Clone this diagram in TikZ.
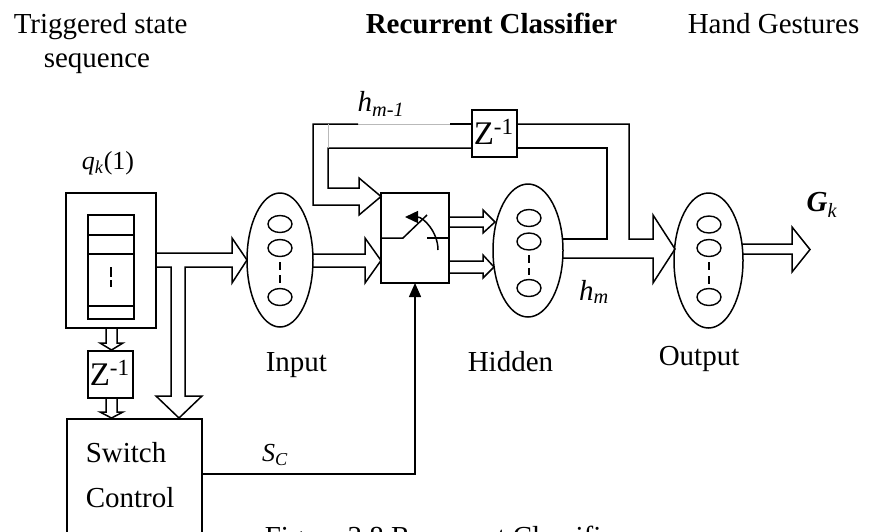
\documentclass[tikz,border=0pt]{standalone}
\usepackage{fontspec}
\setmainfont{Liberation Serif}
\usetikzlibrary{shapes.geometric,arrows.meta}
\begin{document}
\begin{tikzpicture}[x=1pt,y=-1pt, line width=1.5pt, line join=miter,
  box/.style={draw, rectangle, inner sep=0pt},
  layer/.style={draw, ellipse, inner sep=0pt},
  unit/.style={draw, ellipse, inner sep=0pt, line width=1.4pt, minimum width=24pt, minimum height=17pt},
  lbl/.style={font=\fontsize{29}{34}\selectfont, inner sep=0pt},
  sym/.style={font=\fontsize{29}{34}\selectfont, inner sep=0pt},
  zsym/.style={font=\fontsize{33}{38}\selectfont, inner sep=0pt},
  faint/.style={draw=gray!55, line width=0.8pt}]
\clip (0,0) rectangle (869,531);
\fill[white] (0,0) rectangle (869,531);

% titles
\node[lbl, anchor=base west] (t1) at (13,33) {Triggered state};
\node[lbl, anchor=base west] (t2) at (43,67) {sequence};
\node[lbl, anchor=base west, font=\fontsize{29}{34}\selectfont\bfseries] (t3) at (365,33) {Recurrent Classifier};
\node[lbl, anchor=base west] (t4) at (687,33) {Hand Gestures};

% state sequence buffer
\node[box, minimum width=90pt, minimum height=135pt] (seq) at (111,260.5) {};
\node[box, minimum width=46pt, minimum height=104pt] (stack) at (111,267) {};
\draw (88,235) -- (134,235) (88,254) -- (134,254) (88,306) -- (134,306);
\draw (111,267) -- (111,277) (111,280) -- (111,287);
\node[font=\fontsize{26}{30}\selectfont, inner sep=0pt] (qlab) at (108,163) {\textit{q}\textsubscript{\textit{k}}(1)};

% delay boxes
\node[box, minimum width=45pt, minimum height=47pt] (zlow) at (110.5,374.5) {};
\node[zsym, anchor=base west] (zlowt) at (89,385) {Z\textsuperscript{-1}};
\node[box, minimum width=45pt, minimum height=47pt] (zup) at (494.5,133.5) {};
\node[zsym, anchor=base west] (zupt) at (473,144) {Z\textsuperscript{-1}};

% switch control
\node[box, minimum width=135pt, minimum height=130pt, anchor=north west] (sc) at (66,418) {};
\node[lbl, anchor=base west] (sw1) at (85,462) {Switch};
\node[lbl, anchor=base west] (sw2) at (85,507) {Control};

% switch
\node[box, minimum width=68pt, minimum height=90pt] (sw) at (415,238) {};
\draw (381,238) -- (403,238) -- (427,215);
\draw (427,238) -- (449,238);
\draw[-{Triangle[length=13pt,width=12pt]}] (438,250) .. controls (438,231.8) and (423.2,217) .. (405,217);

% layers
\node[layer, minimum width=66pt, minimum height=134pt] (inp) at (280,260) {};
\node[unit] (i1) at (280,224) {};
\node[unit] (i2) at (280,248) {};
\node[unit] (i3) at (280,297) {};
\draw (280,262) -- (280,270) (280,275) -- (280,283);

\node[layer, minimum width=70pt, minimum height=133pt] (hid) at (528,250.5) {};
\node[unit] (h1) at (529,218) {};
\node[unit] (h2) at (529,241.5) {};
\node[unit] (h3) at (529,288) {};
\draw (529,255) -- (529,263) (529,268) -- (529,275);

\node[layer, minimum width=69pt, minimum height=135pt] (out) at (708.5,260.5) {};
\node[unit] (o1) at (709,224.5) {};
\node[unit] (o2) at (709,248) {};
\node[unit] (o3) at (709,297) {};
\draw (709,262) -- (709,270) (709,276) -- (709,284);

% hollow arrows
\draw (156,253) -- (232,253) -- (232,238) -- (247,260) -- (232,283) -- (232,267) -- (185,267)
      -- (185,396) -- (202,396) -- (179,418) -- (156,396) -- (171,396) -- (171,267) -- (156,267);
\draw (106,328) -- (106,343) -- (100,343) -- (111.5,350) -- (123,343) -- (117,343) -- (117,328);
\draw (106,398) -- (106,412) -- (100,412) -- (111.5,418) -- (123,412) -- (117,412) -- (117,398);
\draw (313,254) -- (365,254) -- (365,238) -- (381,260.5) -- (365,283) -- (365,267) -- (313,267);
\draw (449,217) -- (483,217) -- (483,210) -- (495,222) -- (483,233) -- (483,227) -- (449,227);
\draw (449,261) -- (483,261) -- (483,255) -- (494,267) -- (483,278) -- (483,273) -- (449,273);
\draw (562,239) -- (607,239) -- (607,148) -- (517,148);
\draw (517,124) -- (629,124) -- (629,239) -- (653,239) -- (653,215) -- (675,249) -- (653,283) -- (653,258) -- (562,258);
\draw (742,244) -- (792,244) -- (792,227) -- (810,249.5) -- (792,272) -- (792,254) -- (742,254);

% feedback into switch
\draw (472,124) -- (450,124);
\draw[faint] (450,124) -- (358,124);
\draw (358,124) -- (313,124) -- (313,205) -- (359,205) -- (359,215) -- (381,196.5) -- (359,178) -- (359,188) -- (328,188) -- (328,148) -- (472,148);
\draw[faint] (328,124) -- (328,148);

% control signal
\draw[-{Triangle[length=14pt,width=12pt]}] (201,474) -- (415,474) -- (415,283);

% labels
\node[sym] (hm1) at (381,104) {\textit{h}\textsubscript{\textit{m-1}}};
\node[sym] (hm) at (594,292) {\textit{h}\textsubscript{\textit{m}}};
\node[sym] (gk) at (822,205) {\textbf{\textit{G}}\textsubscript{\textit{k}}};
\node[font=\fontsize{26}{30}\selectfont, inner sep=0pt] (scl) at (275,455) {\textit{S}\textsubscript{\textit{C}}};
\node[lbl, anchor=base west] (linp) at (265,371) {Input};
\node[lbl, anchor=base west] (lhid) at (467,371) {Hidden};
\node[lbl, anchor=base west] (lout) at (658,365) {Output};
\node[lbl, anchor=base west] (cap) at (264,546) {Figure 3.8 Recurrent Classifier};
\end{tikzpicture}
\end{document}
